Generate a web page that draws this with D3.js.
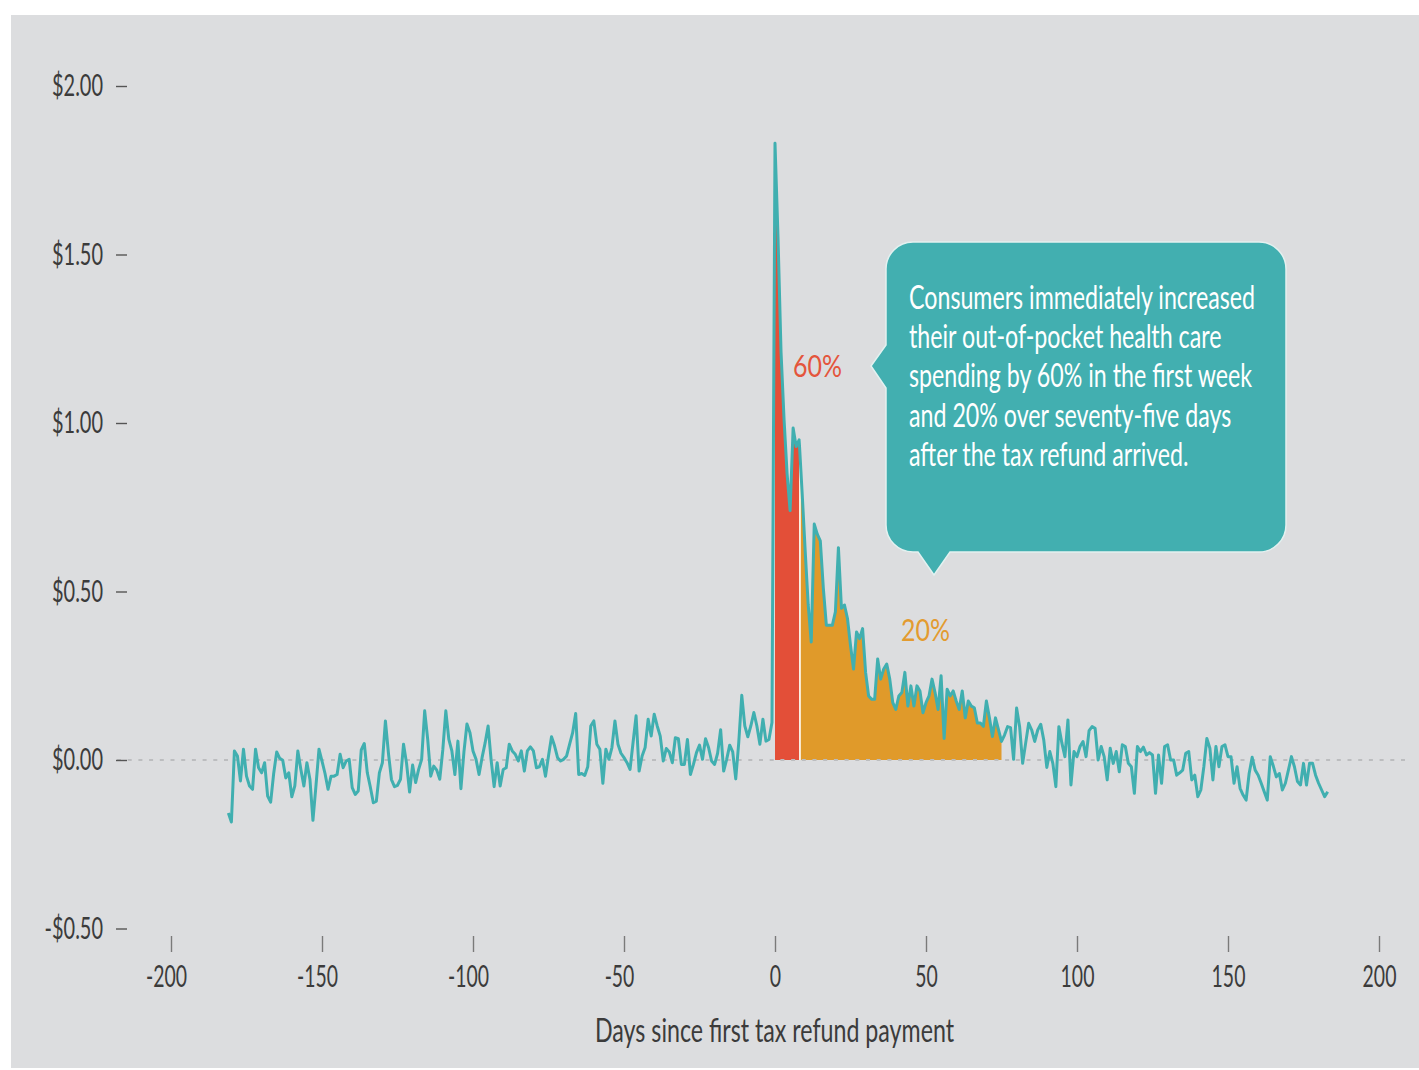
<!DOCTYPE html>
<html><head><meta charset="utf-8">
<script src="https://cdn.jsdelivr.net/npm/d3@7"></script>
<style>body{margin:0;background:#fff} svg{display:block}</style>
</head><body>
<svg id="c" width="1419" height="1070"></svg>
<script>
// ---------- data ----------
const xTicks = [-200, -150, -100, -50, 0, 50, 100, 150, 200];
const xTickLabels = ["-200", "-150", "-100", "-50", "0", "50", "100", "150", "200"];
const yTicks = [-0.5, 0, 0.5, 1, 1.5, 2];
const yTickLabels = ["-$0.50", "$0.00", "$0.50", "$1.00", "$1.50", "$2.00"];
const xTitle = "Days since first tax refund payment";
const firstDay = -181;
// daily change in out-of-pocket health spending, days -181 .. -1
const spendPre = [
-0.157,-0.184,0.027,0.012,-0.062,0.032,-0.048,-0.077,-0.087,0.032,
-0.023,-0.038,-0.008,-0.107,-0.125,-0.040,0.024,0.005,-0.001,-0.053,
-0.038,-0.109,-0.077,0.027,-0.028,-0.077,-0.008,-0.057,-0.179,-0.077,
0.032,-0.003,-0.040,-0.087,-0.048,-0.048,-0.043,0.017,-0.023,-0.003,
0.002,-0.082,-0.102,-0.092,0.030,0.049,-0.038,-0.080,-0.127,-0.122,
-0.038,-0.008,0.116,0.020,-0.058,-0.079,-0.075,-0.057,0.047,-0.010,
-0.095,-0.015,-0.067,-0.028,0.002,0.146,0.061,-0.048,-0.018,-0.030,
-0.057,0.030,0.146,0.061,0.027,-0.043,0.056,-0.085,0.024,0.107,
0.081,0.027,0.002,-0.043,0.007,0.050,0.101,
0.000,-0.079,-0.008,-0.077,-0.028,-0.023,0.047,0.027,0.017,-0.003,
0.027,-0.033,0.027,0.039,0.027,-0.023,-0.020,0.002,-0.048,0.012,
0.069,0.042,0.007,-0.003,0.002,0.012,0.047,0.081,0.138,-0.043,
-0.040,-0.046,-0.020,0.101,0.116,0.047,0.032,-0.069,0.032,0.002,
0.037,0.116,0.047,0.020,0.007,-0.008,-0.028,0.052,0.131,-0.033,
0.012,0.037,0.121,0.071,0.136,0.101,0.071,-0.003,0.034,0.024,
-0.008,0.066,0.063,-0.013,-0.013,0.061,-0.043,-0.013,0.022,0.044,
0.002,0.063,0.037,-0.003,-0.013,0.020,0.090,-0.033,0.002,0.044,
0.024,-0.056,0.052,0.192,0.101,0.069,0.101,0.141,0.101,0.047,
0.121,0.056,0.061,0.111
];
// days 0 .. 183
const spendPost = [
1.83,1.55,1.21,1.01,0.85,0.74,0.985,0.93,0.95,0.79,
0.62,0.46,0.35,0.70,0.67,0.65,0.51,0.40,0.40,0.40,
0.44,0.63,0.45,0.46,0.42,0.34,0.27,0.38,0.36,0.39,
0.26,0.19,0.18,0.18,0.30,0.24,0.27,0.285,0.24,0.17,
0.15,0.19,0.20,0.26,0.16,0.22,0.16,0.22,0.205,0.14,
0.17,0.19,0.24,0.20,0.15,0.25,0.064,0.21,0.19,0.205,
0.175,0.15,0.205,0.125,0.175,0.16,0.155,0.11,0.11,0.10,
0.175,0.125,0.07,0.125,0.09,
0.055,0.074,0.099,0.096,0.002,0.154,0.099,-0.010,0.050,0.109,
0.089,0.055,0.089,0.106,0.059,-0.022,0.025,-0.010,-0.079,0.099,
0.050,0.010,0.119,-0.074,0.025,0.010,0.040,0.055,0.010,0.087,
0.099,0.094,0.000,0.040,0.010,-0.059,0.035,-0.010,0.025,-0.035,
0.045,0.040,-0.010,-0.020,-0.099,0.040,0.025,0.038,0.015,0.022,
0.015,-0.099,0.015,-0.069,0.040,0.045,0.000,0.000,-0.045,-0.038,
-0.030,0.020,0.025,-0.059,-0.045,-0.109,-0.089,-0.020,0.064,0.035,
-0.059,0.040,-0.020,0.040,0.045,0.010,0.010,-0.069,-0.020,-0.084,
-0.104,-0.119,-0.040,0.008,-0.030,-0.045,-0.069,-0.094,-0.119,0.010,
-0.018,-0.050,-0.040,-0.089,-0.069,-0.030,0.010,-0.020,-0.064,-0.074,
-0.010,-0.074,-0.010,-0.010,-0.045,-0.069,-0.089,-0.109,-0.094
];
const firstWeek = [0, 8];      // red area (days)
const seventyFive = [8, 75];   // orange area (days)
const firstWeekLabel = "60%";
const seventyFiveLabel = "20%";
const calloutLines = [
  "Consumers immediately increased",
  "their out-of-pocket health care",
  "spending by 60% in the first week",
  "and 20% over seventy-five days",
  "after the tax refund arrived."
];

if (spendPre.length !== 181 || spendPost.length !== 184)
  throw new Error("length " + spendPre.length + " " + spendPost.length);

const series = spendPre.concat(spendPost).map((v, i) => ({ day: firstDay + i, v }));

// ---------- drawing ----------
const FONT = "Lato, 'Open Sans', 'Noto Sans', sans-serif";
const svg = d3.select("#c");
const x = d3.scaleLinear().domain([-200, 200]).range([171, 1379]);
const y = d3.scaleLinear().domain([-0.5, 2]).range([928.5, 86]);

svg.append("rect").attr("x", 11).attr("y", 15).attr("width", 1408).attr("height", 1053)
  .attr("fill", "#dcdddf");

// areas
const area = d3.area().x(d => x(d.day)).y0(y(0)).y1(d => y(d.v));
const inRange = r => series.filter(d => d.day >= r[0] && d.day <= r[1]);
svg.append("path").datum(inRange(seventyFive)).attr("d", area).attr("fill", "#e09a2a");
svg.append("path").datum(inRange(firstWeek)).attr("d", area).attr("fill", "#e34f38");
const sep = series.find(d => d.day === firstWeek[1]);
svg.append("line").attr("x1", x(sep.day) + 0.8).attr("x2", x(sep.day) + 0.8)
  .attr("y1", y(0)).attr("y2", y(sep.v)).attr("stroke", "#ffffff").attr("stroke-width", 1.6);

// zero reference line
svg.append("line").attr("x1", x(-200) - 54).attr("x2", x(200) + 32)
  .attr("y1", y(0)).attr("y2", y(0))
  .attr("stroke", "#bcbdbf").attr("stroke-width", 2).attr("stroke-dasharray", "4,6.7");

// main line
svg.append("path").datum(series)
  .attr("d", d3.line().x(d => x(d.day)).y(d => y(d.v)))
  .attr("fill", "none").attr("stroke", "#40afb0").attr("stroke-width", 3)
  .attr("stroke-linejoin", "round");

// axes
const xAxis = svg.append("g").attr("transform", "translate(0,936)")
  .call(d3.axisBottom(x).tickValues(xTicks).tickSize(16).tickPadding(14)
    .tickFormat((d, i) => xTickLabels[i]));
const yAxis = svg.append("g").attr("transform", "translate(127,0)")
  .call(d3.axisLeft(y).tickValues(yTicks).tickSize(11).tickPadding(13)
    .tickFormat((d, i) => yTickLabels[i]));
[xAxis, yAxis].forEach(g => {
  g.select(".domain").remove();
  g.selectAll(".tick line").attr("stroke", "#7a7a7a").attr("stroke-width", 1.4);
  g.selectAll("text").attr("fill", "#3b3b3b").style("font-family", FONT).style("font-size", "30px");
});
yAxis.selectAll(".tick line").attr("stroke", "#555");
// the leading hyphen hangs to the left of the centred digits
xAxis.selectAll(".tick text").attr("dx", d => d < 0 ? -5 : 0);

const title = svg.append("text").attr("x", 774.5).attr("y", 1042).attr("text-anchor", "middle")
  .attr("fill", "#3b3b3b").style("font-family", FONT).style("font-size", "32px").text(xTitle);

// labels on the areas
const labels = svg.append("g");
const lab60 = labels.append("text").attr("x", 793).attr("y", 377).attr("fill", "#e4553c")
  .style("font-family", FONT).style("font-size", "30px").text(firstWeekLabel);
const lab20 = labels.append("text").attr("x", 901).attr("y", 641).attr("fill", "#e39b2f")
  .style("font-family", FONT).style("font-size", "30px").text(seventyFiveLabel);

// callout
const bx0 = 886, by0 = 242, bx1 = 1286, by1 = 552, r = 27;
const p = d3.path();
p.moveTo(bx0 + r, by0);
p.lineTo(bx1 - r, by0); p.arcTo(bx1, by0, bx1, by0 + r, r);
p.lineTo(bx1, by1 - r); p.arcTo(bx1, by1, bx1 - r, by1, r);
p.lineTo(950, by1); p.lineTo(934, 575); p.lineTo(918, by1);
p.lineTo(bx0 + r, by1); p.arcTo(bx0, by1, bx0, by1 - r, r);
p.lineTo(bx0, 388); p.lineTo(871, 366); p.lineTo(bx0, 345);
p.lineTo(bx0, by0 + r); p.arcTo(bx0, by0, bx0 + r, by0, r);
p.closePath();
svg.append("path").attr("d", p.toString()).attr("fill", "#42afb0")
  .attr("stroke", "#e3f1f0").attr("stroke-width", 1.5);
const callout = svg.append("g");
calloutLines.forEach((t, i) => {
  callout.append("text").attr("x", 909).attr("y", 309 + i * 39.2).attr("fill", "#ffffff")
    .style("font-family", FONT).style("font-size", "33px").text(t);
});

// condense text to match the narrow typeface of the original
function condense(sel, refNode, refWidth) {
  const f = refWidth / refNode.getComputedTextLength();
  sel.each(function () {
    const w = this.getComputedTextLength();
    this.setAttribute("textLength", (w * f).toFixed(1));
    this.setAttribute("lengthAdjust", "spacingAndGlyphs");
  });
}
condense(yAxis.selectAll("text"), yAxis.selectAll("text").nodes()[5], 51);
condense(xAxis.selectAll("text"), xAxis.selectAll("text").nodes()[0], 41);
condense(title, title.node(), 359);
condense(callout.selectAll("text"), callout.select("text").node(), 346);
condense(labels.selectAll("text"), lab60.node(), 49);
</script>
</body></html>
